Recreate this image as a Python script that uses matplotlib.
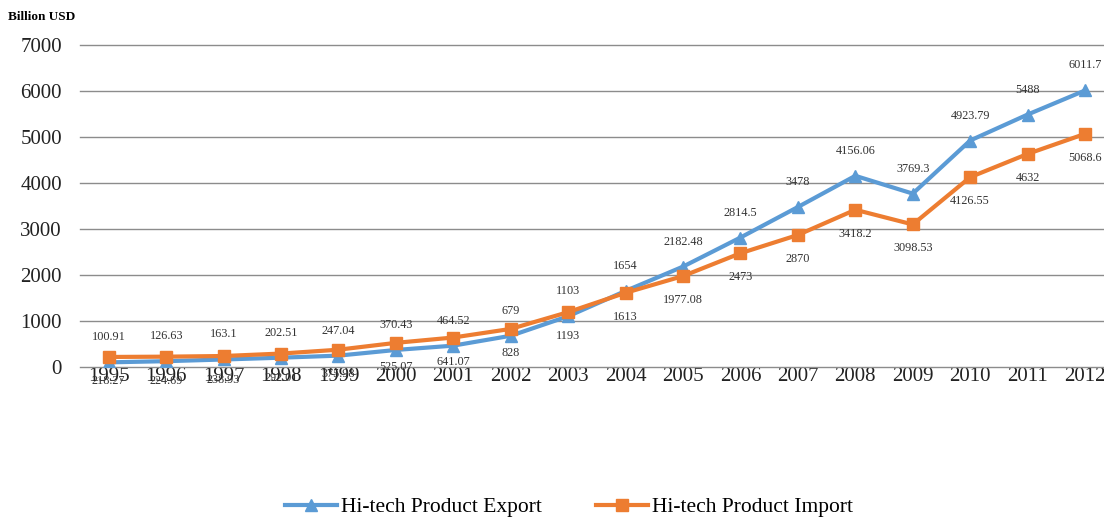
import matplotlib
matplotlib.use("Agg")
from matplotlib import pyplot as plt

years = [str(y) for y in range(1995, 2013)]
export_vals = [100.91, 126.63, 163.1, 202.51, 247.04, 370.43, 464.52, 679, 1103, 1654,
               2182.48, 2814.5, 3478, 4156.06, 3769.3, 4923.79, 5488, 6011.7]
import_vals = [218.27, 224.69, 238.93, 292.01, 375.98, 525.07, 641.07, 828, 1193, 1613,
               1977.08, 2473, 2870, 3418.2, 3098.53, 4126.55, 4632, 5068.6]
export_labels = ["100.91", "126.63", "163.1", "202.51", "247.04", "370.43", "464.52", "679", "1103",
                 "1654", "2182.48", "2814.5", "3478", "4156.06", "3769.3", "4923.79", "5488", "6011.7"]
import_labels = ["218.27", "224.69", "238.93", "292.01", "375.98", "525.07", "641.07", "828", "1193",
                 "1613", "1977.08", "2473", "2870", "3418.2", "3098.53", "4126.55", "4632", "5068.6"]

blue = "#5B9BD5"
orange = "#ED7D31"
plt.rcParams["font.family"] = ["Liberation Serif", "DejaVu Serif"]

fig = plt.figure(figsize=(11.04, 5.18), dpi=100)
ax = fig.add_axes([80 / 1104, 151 / 518, 1024 / 1104, 322 / 518])

x = list(range(len(years)))
ax.plot(x, export_vals, color=blue, lw=3, marker="^", ms=9, label="Hi-tech Product Export", zorder=3)
ax.plot(x, import_vals, color=orange, lw=3, marker="s", ms=9, label="Hi-tech Product Import", zorder=4)

for i in x:
    ax.annotate(export_labels[i], (i, export_vals[i]), xytext=(0, 25), textcoords="offset pixels",
                ha="center", va="center", fontsize=8.8, color="#333333")
    ax.annotate(import_labels[i], (i, import_vals[i]), xytext=(0, -24), textcoords="offset pixels",
                ha="center", va="center", fontsize=8.8, color="#333333")

ax.set_xlim(-0.5, 17.33)
ax.set_ylim(0, 7000)
ax.set_yticks(range(0, 7001, 1000))
ax.set_xticks(x)
ax.set_xticklabels(years)
ax.grid(axis="y", color="#8c8c8c", lw=1)
for gl in ax.get_ygridlines():
    gl.set_clip_on(False)
ax.set_axisbelow(True)
for s in ax.spines.values():
    s.set_visible(False)
ax.tick_params(length=0, labelsize=15, colors="#222222")
ax.tick_params(axis="x", pad=0)
ax.tick_params(axis="y", pad=13)

fig.text(8 / 1104, 1 - 17 / 518, "Billion USD", fontsize=9.5, fontweight="bold", va="center", ha="left")

fig.legend(loc="center", bbox_to_anchor=(569 / 1104, 1 - 507 / 518), ncol=2, frameon=False,
           fontsize=15.5, handlelength=2.4, columnspacing=2.5, handletextpad=0.2)

fig.savefig("out.png", dpi=100)
